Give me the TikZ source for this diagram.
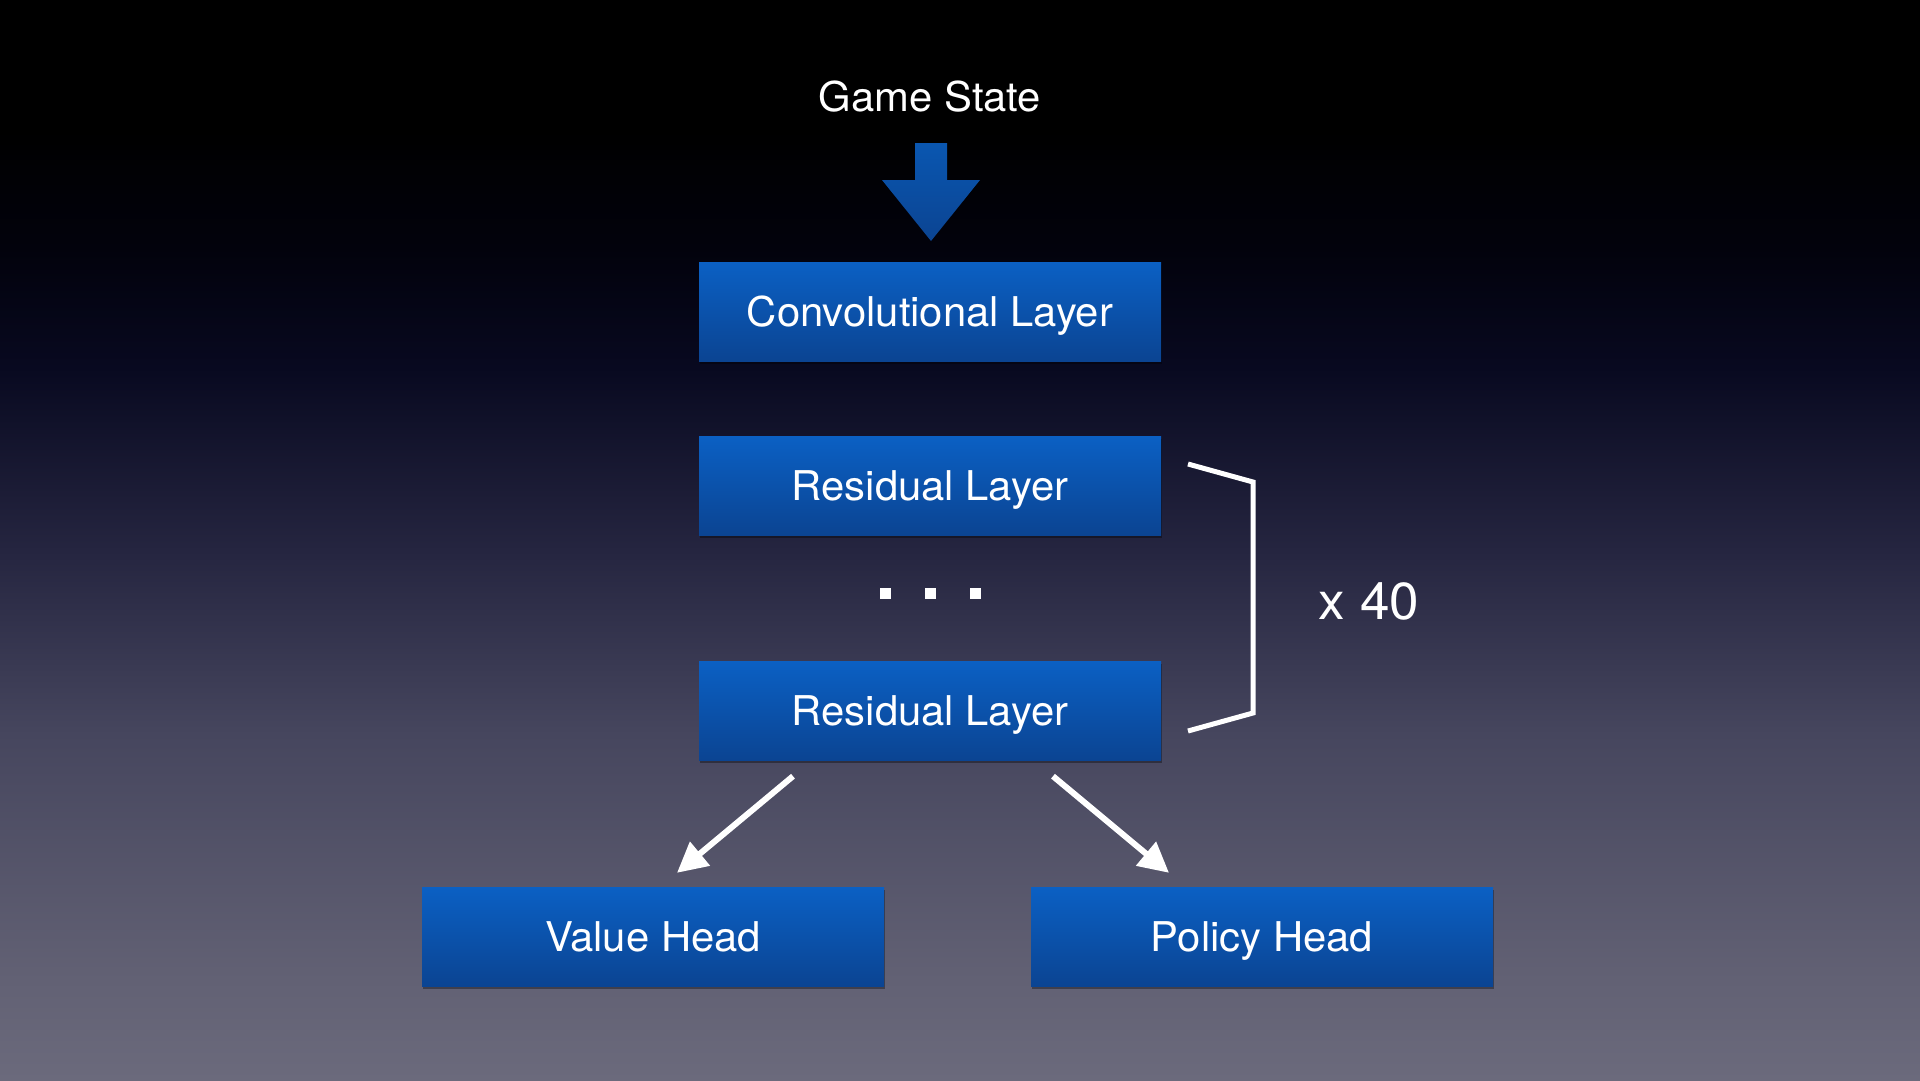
\documentclass[tikz,border=0pt]{standalone}
\usepackage{fontspec}
\setmainfont{TeX Gyre Heros}[FakeStretch=1.02]
\usetikzlibrary{arrows.meta,shadows,calc}
\definecolor{bgA}{HTML}{6B6A7C}
\definecolor{bgB}{HTML}{626174}
\definecolor{bgC}{HTML}{46465E}
\definecolor{bgD}{HTML}{252540}
\definecolor{bgE}{HTML}{080920}
\definecolor{bgF}{HTML}{02020C}
\definecolor{bgG}{HTML}{000000}
\definecolor{boxtop}{HTML}{0B60C4}
\definecolor{boxbot}{HTML}{0B4492}
\pgfdeclareverticalshading{bgshade}{100bp}{color(0bp)=(bgA); color(25bp)=(bgA); color(29.65bp)=(bgB); color(41bp)=(bgC); color(49.5bp)=(bgD); color(58bp)=(bgE); color(63.5bp)=(bgF); color(69bp)=(bgG); color(75bp)=(bgG); color(100bp)=(bgG)}
\tikzset{
  layerbox/.style={rectangle, top color=boxtop, bottom color=boxbot, minimum width=462pt, minimum height=99pt, inner sep=0pt,
    text=white, font=\fontsize{41}{48}\selectfont, text height=29.5pt, text depth=0pt,
    drop shadow={shadow xshift=1pt, shadow yshift=-3pt, opacity=0.35, fill=black}},
  titletext/.style={text=white, font=\fontsize{41}{48}\selectfont, inner sep=0pt},
  dotsq/.style={rectangle, fill=white, minimum size=11pt, inner sep=0pt},
  warr/.style={white, line width=6pt, -{Triangle[length=30pt,width=30pt]}},
}
\begin{document}
\begin{tikzpicture}[x=1pt,y=-1pt]
\useasboundingbox (0,0) rectangle (1920,1080);
\shade[shading=bgshade] (0,0) rectangle (1920,1080);

\node[titletext, anchor=base] (gs) at (930,111) {Game State};
\shade[top color=boxtop!90!black, bottom color=boxbot] (915,143) -- (947,143) -- (947,180) -- (980,180) -- (931,241) -- (882,180) -- (915,180) -- cycle;

\node[layerbox] (conv) at (930,311.5) {Convolutional Layer};
\node[layerbox] (res1) at (930,485.5) {Residual Layer};
\node[layerbox] (res2) at (930,710.5) {Residual Layer};
\node[layerbox] (value) at (653,936.5) {Value Head};
\node[layerbox] (policy) at (1262,936.5) {Policy Head};

\node[dotsq] (d1) at (885,593) {};
\node[dotsq] (d2) at (930,593) {};
\node[dotsq] (d3) at (975,593) {};

\draw[white, line width=5pt, line join=miter] (1188,464) -- (1253,482) -- (1253,713) -- (1188,731);
\node[anchor=base, text=white, inner sep=0pt, font=\fontsize{52}{60}\selectfont] (rep) at (1369,619) {x 40};

\draw[warr] ($(res2.south)+(-137,16)$) -- ($(value.north)+(24,-14)$);
\draw[warr] ($(res2.south)+(123,16)$) -- ($(policy.north)+(-93,-14)$);
\end{tikzpicture}
\end{document}
